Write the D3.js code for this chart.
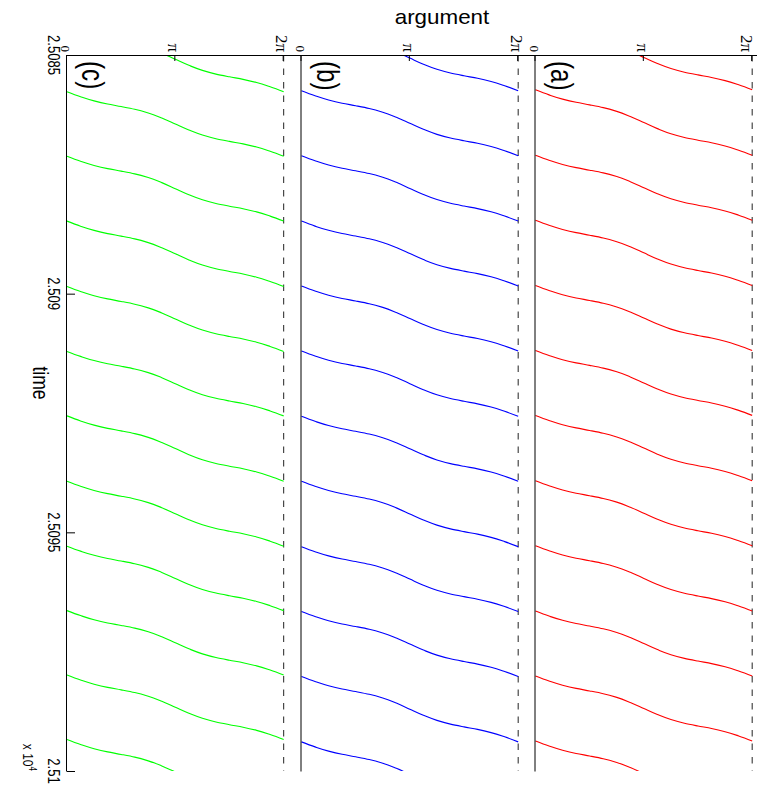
<!DOCTYPE html>
<html>
<head>
<meta charset="utf-8">
<script src="https://cdn.jsdelivr.net/npm/d3@7"></script>
<style>
  html, body { margin: 0; padding: 0; background: #fff; }
  svg { display: block; }
</style>
</head>
<body>
<svg id="chart" width="757" height="788"></svg>
<script>
// time axis, shown as x 10^4
const timeDomain = [25085, 25100];
const timeTicks = [25085, 25090, 25095, 25100];
const timeTickLabels = ["2.5085", "2.509", "2.5095", "2.51"];

// argument axis
const phaseDomain = [0, 6.8];
const phaseTicks = [0, Math.PI, 2 * Math.PI];
const phaseTickLabels = ["0", "\u03c0", "2\u03c0"];

// panels, top to bottom in the unrotated figure
const panelNames = ["(a)", "(b)", "(c)"];
const panelColors = ["#ff0000", "#0000ff", "#00ff00"];

// one cycle of the wrapped argument:
// elapsed fraction of the cycle -> argument in units of pi
const cycleFrac = [0, 0.077, 0.142, 0.191, 0.23, 0.272, 0.329, 0.407, 0.5,
  0.593, 0.671, 0.728, 0.77, 0.809, 0.858, 0.923, 1];
const cyclePhase = [0, 0.125, 0.25, 0.375, 0.5, 0.625, 0.75, 0.875, 1,
  1.125, 1.25, 1.375, 1.5, 1.625, 1.75, 1.875, 2];

// times where the argument wraps from 2pi back to 0
const wrapsA = [25084.37, 25085.73, 25087.10, 25088.46, 25089.83, 25091.19,
  25092.55, 25093.92, 25095.28, 25096.65, 25098.01, 25099.37, 25100.74];
const wrapsB = [25084.38, 25085.75, 25087.11, 25088.48, 25089.84, 25091.20,
  25092.57, 25093.93, 25095.30, 25096.66, 25098.02, 25099.39, 25100.75];
const wrapsC = [25084.41, 25085.77, 25087.12, 25088.48, 25089.85, 25091.21,
  25092.56, 25093.93, 25095.29, 25096.64, 25097.99, 25099.34, 25100.70];
const panelWraps = [wrapsA, wrapsB, wrapsC];

const dims = {
  width: 757,
  height: 788,
  left: 55,
  right: 771,
  panelBottoms: [221.5, 455.5, 690],
  panelHeight: 234.5,
};

const font = "'Liberation Sans', Arial, Helvetica, sans-serif";
const serif = "'Liberation Serif', 'Times New Roman', serif";

const svg = d3.select("#chart");

// the whole figure is drawn lying on its side
const g = svg.append("g")
  .attr("transform", `translate(${dims.width},0) rotate(90)`);

g.append("clipPath")
  .attr("id", "plot-clip")
  .append("rect")
  .attr("x", dims.left)
  .attr("y", -100)
  .attr("width", dims.right - dims.left)
  .attr("height", 1000);

const x = d3.scaleLinear().domain(timeDomain).range([dims.left, dims.right]);

panelNames.forEach((name, i) => {
  const bottom = dims.panelBottoms[i];
  const y = d3.scaleLinear()
    .domain(phaseDomain)
    .range([bottom, bottom - dims.panelHeight]);

  const panel = g.append("g").attr("class", "panel");

  // dashed 2pi line
  panel.append("line")
    .attr("x1", x(timeDomain[0]))
    .attr("x2", x(timeDomain[1]))
    .attr("y1", y(2 * Math.PI))
    .attr("y2", y(2 * Math.PI))
    .attr("stroke", "#222")
    .attr("stroke-width", 1)
    .attr("stroke-dasharray", "6.5,7");

  // curves, one path per cycle
  const line = d3.line()
    .x((d) => x(d[0]))
    .y((d) => y(d[1]))
    .curve(d3.curveMonotoneX);

  const wraps = panelWraps[i];
  const cycles = d3.range(wraps.length - 1).map((k) => {
    const t0 = wraps[k];
    const t1 = wraps[k + 1];
    return cycleFrac.map((f, j) => [t0 + f * (t1 - t0), cyclePhase[j] * Math.PI]);
  });

  panel.append("g")
    .attr("clip-path", "url(#plot-clip)")
    .selectAll("path")
    .data(cycles)
    .join("path")
    .attr("fill", "none")
    .attr("stroke", panelColors[i])
    .attr("stroke-width", 1.1)
    .attr("d", line);

  // argument axis
  const yAxis = panel.append("g")
    .attr("transform", `translate(${dims.left},0)`)
    .call(
      d3.axisLeft(y)
        .tickValues(phaseTicks)
        .tickFormat((d, k) => phaseTickLabels[k])
        .tickSize(-6)
        .tickSizeOuter(0)
        .tickPadding(3)
    );
  yAxis.select(".domain").attr("stroke", "#000");
  yAxis.selectAll(".tick line").attr("stroke", "#000");
  yAxis.selectAll(".tick text")
    .attr("font-family", serif)
    .attr("font-size", (d, k) => (k === 0 ? 13 : 17))
    // keep the top 2pi label inside the page edge
    .attr("dy", (d, k) => (i === 0 && k === 2 ? "0.6em" : "0.4em"))
    .attr("fill", "#000");

  // time axis
  const xAxis = panel.append("g")
    .attr("transform", `translate(0,${bottom})`)
    .call(
      d3.axisBottom(x)
        .tickValues(i === 2 ? timeTicks : [])
        .tickFormat("")
        .tickSize(-8)
        .tickSizeOuter(0)
    );
  xAxis.select(".domain").attr("stroke", "#000");
  xAxis.selectAll(".tick line").attr("stroke", "#000");

  if (i === 2) {
    panel.selectAll(".time-label")
      .data(timeTicks)
      .join("text")
      .attr("class", "time-label")
      .attr("transform", (d) => `translate(${x(d)},${bottom + 19}) scale(0.77,1)`)
      .attr("text-anchor", "middle")
      .attr("font-family", font)
      .attr("font-size", 17)
      .attr("fill", "#000")
      .text((d, k) => timeTickLabels[k]);

    const mult = panel.append("text")
      .attr("transform", `translate(${x(timeDomain[1])},${bottom + 44}) scale(0.8,1)`)
      .attr("text-anchor", "end")
      .attr("font-family", font)
      .attr("font-size", 15)
      .attr("fill", "#000");
    mult.append("tspan").text("x 10");
    mult.append("tspan").attr("dy", -6).attr("font-size", 10).text("4");

    panel.append("text")
      .attr("transform", `translate(383,${bottom + 34}) scale(0.8,1)`)
      .attr("text-anchor", "middle")
      .attr("font-family", font)
      .attr("font-size", 22)
      .attr("fill", "#000")
      .text("time");
  }

  // panel tag
  panel.append("text")
    .attr("transform", `translate(${dims.left + 6},${bottom - 15}) scale(0.78,1)`)
    .attr("font-family", font)
    .attr("font-size", 31)
    .attr("fill", "#000")
    .text(name);
});

// y label ends up horizontal across the top
svg.append("text")
  .attr("transform", "translate(442,24) scale(1.12,1)")
  .attr("text-anchor", "middle")
  .attr("font-family", font)
  .attr("font-size", 20)
  .attr("fill", "#000")
  .text("argument");
</script>
</body>
</html>
